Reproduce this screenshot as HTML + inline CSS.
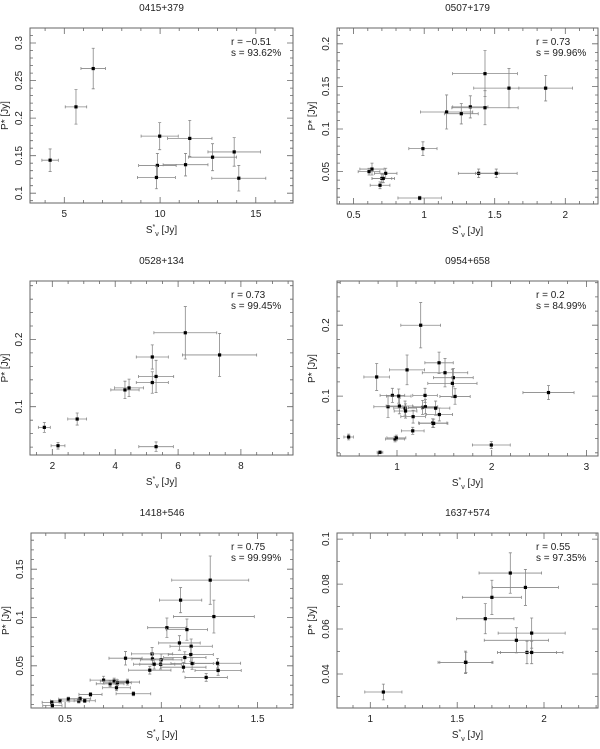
<!DOCTYPE html>
<html><head><meta charset="utf-8">
<style>
body{margin:0;background:#fff;}
svg text{font-family:"Liberation Sans",sans-serif;fill:#222;}
</style></head>
<body>
<svg id="fig" width="600" height="744" xmlns="http://www.w3.org/2000/svg"></svg>
<script>
// ---- Panel data ----
const p1Title="0415+379", p1Stats=["r  =  \u22120.51","s  =  93.62%"];
const p1X=[4.26,5.61,6.51,9.98,9.86,9.81,11.55,11.33,12.74,13.87,14.11];
const p1Y=[0.144,0.215,0.266,0.176,0.137,0.121,0.173,0.138,0.148,0.155,0.120];
const p1XE=[0.43,0.56,0.64,0.97,0.98,0.99,1.16,1.17,1.25,1.37,1.41];
const p1YE=[0.015,0.023,0.027,0.018,0.016,0.015,0.024,0.015,0.018,0.019,0.017];
const p1XTicks=[5,10,15], p1YTicks=[0.1,0.15,0.2,0.25,0.3];

const p2Title="0507+179", p2Stats=["r  =  0.73","s  =  99.96%"];
const p2X=[0.609,0.630,0.727,0.70,0.71,0.687,0.968,0.991,1.159,1.263,1.327,1.431,1.431,1.601,1.861,1.386,1.511];
const p2Y=[0.050,0.053,0.048,0.042,0.042,0.034,0.019,0.077,0.120,0.118,0.126,0.125,0.165,0.148,0.148,0.048,0.048];
const p2XE=[0.077,0.086,0.08,0.07,0.08,0.07,0.154,0.10,0.185,0.12,0.125,0.235,0.23,0.25,0.19,0.144,0.148];
const p2YE=[0.004,0.007,0.006,0.005,0.005,0.004,0.002,0.008,0.02,0.012,0.013,0.02,0.027,0.023,0.015,0.005,0.005];
const p2XTicks=[0.5,1,1.5,2], p2YTicks=[0.05,0.1,0.15,0.2];

const p3Title="0528+134", p3Stats=["r  =  0.73","s  =  99.45%"];
const p3X=[1.745,2.18,2.79,4.31,4.44,5.18,5.30,5.18,5.30,6.23,7.32];
const p3Y=[0.0693,0.042,0.0817,0.125,0.128,0.136,0.145,0.174,0.0406,0.210,0.177];
const p3XE=[0.19,0.22,0.3,0.45,0.46,0.51,0.56,0.51,0.55,1.0,1.18];
const p3YE=[0.0074,0.005,0.009,0.013,0.013,0.016,0.024,0.018,0.007,0.039,0.032];
const p3XTicks=[2,4,6,8], p3YTicks=[0.1,0.2];

const p4Title="0954+658", p4Stats=["r  =  0.2","s  =  84.99%"];
const p4X=[0.489,0.82,0.979,0.993,0.785,0.905,0.951,1.018,1.025,1.085,1.09,1.106,1.17,1.166,1.25,1.27,1.296,1.30,1.377,1.387,1.408,1.444,1.447,1.507,1.595,1.585,1.613,1.996,2.60];
const p4Y=[0.0423,0.0207,0.0394,0.041,0.127,0.085,0.101,0.100,0.086,0.083,0.079,0.137,0.071,0.051,0.200,0.084,0.101,0.085,0.062,0.0615,0.083,0.147,0.074,0.133,0.126,0.118,0.0995,0.031,0.105];
const p4XE=[0.05,0.03,0.1,0.1,0.135,0.15,0.13,0.13,0.14,0.12,0.12,0.185,0.13,0.12,0.21,0.15,0.13,0.13,0.15,0.15,0.15,0.15,0.14,0.24,0.21,0.26,0.16,0.2,0.27];
const p4YE=[0.004,0.002,0.004,0.004,0.019,0.015,0.01,0.01,0.011,0.01,0.01,0.021,0.009,0.005,0.032,0.01,0.01,0.01,0.006,0.006,0.01,0.015,0.009,0.02,0.013,0.02,0.011,0.005,0.01];
const p4XTicks=[1,2,3], p4YTicks=[0.1,0.2];

const p5Title="1418+546", p5Stats=["r  =  0.75","s  =  99.99%"];
const p5X=[1.254,1.10,1.273,1.029,1.133,1.094,1.155,1.153,1.122,1.16,1.292,1.295,1.115,1.233,0.952,0.954,0.814,0.999,0.996,0.963,0.94,0.70,0.734,0.755,0.772,0.767,0.824,0.855,0.632,0.578,0.571,0.602,0.517,0.474,0.431,0.434];
const p5Y=[0.1387,0.118,0.101,0.0895,0.0875,0.0737,0.0703,0.0617,0.0586,0.0524,0.0527,0.0452,0.0486,0.038,0.0624,0.0572,0.0579,0.0562,0.0517,0.0517,0.0455,0.0352,0.0314,0.0342,0.0325,0.0273,0.0332,0.0211,0.0204,0.016,0.0136,0.0139,0.0156,0.0136,0.0122,0.0088];
const p5XE=[0.2,0.11,0.21,0.1,0.107,0.108,0.11,0.117,0.11,0.11,0.12,0.12,0.117,0.11,0.107,0.107,0.086,0.108,0.108,0.107,0.11,0.07,0.072,0.072,0.072,0.072,0.063,0.09,0.06,0.055,0.055,0.055,0.05,0.05,0.05,0.05];
const p5YE=[0.025,0.013,0.017,0.01,0.011,0.0075,0.0075,0.007,0.006,0.006,0.005,0.005,0.005,0.004,0.0065,0.006,0.007,0.006,0.005,0.005,0.004,0.004,0.003,0.003,0.003,0.003,0.003,0.002,0.002,0.002,0.002,0.002,0.002,0.002,0.002,0.002];
const p5XTicks=[0.5,1,1.5], p5YTicks=[0.05,0.1,0.15];

const p6Title="1637+574", p6Stats=["r  =  0.55","s  =  97.35%"];
const p6X=[1.075,1.548,1.806,1.893,1.70,1.662,1.929,1.841,1.902,1.929,1.55];
const p6Y=[0.032,0.0452,0.0849,0.0785,0.0741,0.0646,0.0582,0.055,0.0496,0.0496,0.0452];
const p6XE=[0.107,0.158,0.18,0.19,0.17,0.165,0.193,0.185,0.17,0.18,0.15];
const p6YE=[0.0035,0.005,0.009,0.008,0.0076,0.0067,0.0067,0.0056,0.005,0.005,0.0045];
const p6XTicks=[1,1.5,2], p6YTicks=[0.04,0.06,0.08,0.1];

const svg=document.getElementById('fig');
const NS="http://www.w3.org/2000/svg";
function mk(tag,attrs,parent){const e=document.createElementNS(NS,tag);for(const k in attrs)e.setAttribute(k,attrs[k]);parent.appendChild(e);return e;}

function panel(id,box,xr,yr,xminor,yminor,title,stats,xs,ys,xe,ye,xt,yt){
  const g=mk('g',{},svg);
  
  
  const [L,R,T,B]=box;
  const sx=v=>L+(v-xr[0])/(xr[1]-xr[0])*(R-L);
  const sy=v=>B-(v-yr[0])/(yr[1]-yr[0])*(B-T);
  const frame=mk('rect',{x:L,y:T,width:R-L,height:B-T,fill:'none',stroke:'#666','stroke-width':1},g);
  
  
  // minor ticks
  let d='';
  for(let v=Math.ceil(xr[0]/xminor)*xminor; v<=xr[1]; v+=xminor){const x=sx(v).toFixed(1);d+=`M${x},${B}v-3M${x},${T}v3`;}
  for(let v=Math.ceil(yr[0]/yminor)*yminor; v<=yr[1]; v+=yminor){const y=sy(v).toFixed(1);d+=`M${L},${y}h3M${R},${y}h-3`;}
  xt.forEach(v=>{const x=sx(v).toFixed(1);d+=`M${x},${B}v-6M${x},${T}v6`;});
  yt.forEach(v=>{const y=sy(v).toFixed(1);d+=`M${L},${y}h6M${R},${y}h-6`;});
  const tk=mk('path',{d:d,stroke:'#666','stroke-width':0.8,fill:'none'},g);
  
  
  xt.forEach(v=>{const t=mk('text',{x:sx(v),y:B+14,'font-size':10,'text-anchor':'middle'},g);t.textContent=String(v);
    
    });
  yt.forEach(v=>{const y=sy(v);const t=mk('text',{x:L-8,y:y,'font-size':10,'text-anchor':'middle',transform:`rotate(-90 ${L-8} ${y})`},g);t.textContent=String(v);
    
    });
  const tt=mk('text',{x:(L+R)/2+(id%2?0:0),y:T-17,'font-size':10,'text-anchor':'middle'},g);tt.textContent=title;
  
  
  const xl=mk('text',{x:(L+R)/2,y:B+30,'font-size':10,'text-anchor':'middle','font-family':'Liberation Serif'},g);
  xl.innerHTML='S<tspan dy="-4" font-size="7">*</tspan><tspan dy="7" font-size="7">\u03BD</tspan><tspan dy="-3"> [Jy]</tspan>';
  
  
  const yl=mk('text',{x:L-22,y:(T+B)/2,'font-size':10,'text-anchor':'middle','font-family':'Liberation Serif',transform:`rotate(-90 ${L-22} ${(T+B)/2})`},g);
  yl.textContent='P* [Jy]';
  
  
  stats.forEach((s,i)=>{const t=mk('text',{x:R-62,y:T+17+i*11,'font-size':10},g);t.textContent=s;
    
    });
  xs.forEach((v,i)=>{
    const cx=sx(v),cy=sy(ys[i]);
    const x1=sx(v-xe[i]),x2=sx(v+xe[i]),y1=sy(ys[i]+ye[i]),y2=sy(ys[i]-ye[i]);
    const eb=mk('path',{d:`M${x1},${cy}H${x2}M${x1},${cy-1.5}v3M${x2},${cy-1.5}v3M${cx},${y1}V${y2}M${cx-1.5},${y1}h3M${cx-1.5},${y2}h3`,stroke:'#888','stroke-width':0.8,fill:'none'},g);
    
    
    const p=mk('rect',{x:cx-1.6,y:cy-1.6,width:3.2,height:3.2,fill:'#000'},g);
    
    
  });
}
panel(1,[30,293,28,203],[3.21,16.94],[0.087,0.32],1,0.01,p1Title,p1Stats,p1X,p1Y,p1XE,p1YE,p1XTicks,p1YTicks);
panel(2,[337,598,28,204],[0.382,2.232],[0.012,0.2186],0.1,0.01,p2Title,p2Stats,p2X,p2Y,p2XE,p2YE,p2XTicks,p2YTicks);
panel(3,[30,293,281,455],[1.289,9.656],[0.0282,0.287],0.5,0.02,p3Title,p3Stats,p3X,p3Y,p3XE,p3YE,p3XTicks,p3YTicks);
panel(4,[337,598,281,456],[0.366,3.123],[0.0155,0.2624],0.2,0.02,p4Title,p4Stats,p4X,p4Y,p4XE,p4YE,p4XTicks,p4YTicks);
panel(5,[31,293,533,708],[0.323,1.684],[0.00636,0.1875],0.1,0.01,p5Title,p5Stats,p5X,p5Y,p5XE,p5YE,p5XTicks,p5YTicks);
panel(6,[337,598,533,708],[0.808,2.311],[0.0249,0.1027],0.1,0.01,p6Title,p6Stats,p6X,p6Y,p6XE,p6YE,p6XTicks,p6YTicks);
</script>
</body></html>
